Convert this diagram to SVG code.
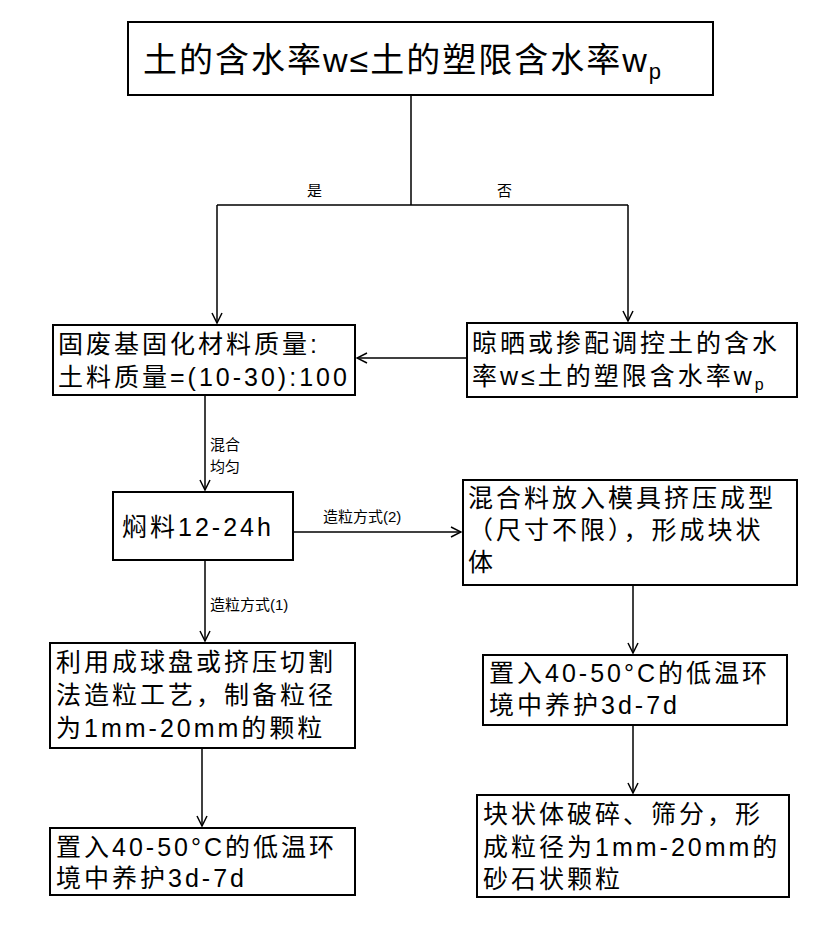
<svg xmlns="http://www.w3.org/2000/svg" width="830" height="929" viewBox="0 0 830 929">
<defs>
<marker id="a" viewBox="0 0 12 12" refX="11" refY="6" markerWidth="12" markerHeight="12" markerUnits="userSpaceOnUse" orient="auto"><path d="M1,1 L11,6 L1,11" fill="none" stroke="#000" stroke-width="1.5"/></marker>
<style>
rect{fill:#fff;stroke:#000;stroke-width:2}
text{font-family:"Liberation Sans","Noto Sans CJK SC",sans-serif;fill:#000}
.t{font-size:25px;letter-spacing:3px}
.s{font-size:15px}
.c line,.c path{stroke:#000;stroke-width:1.5;fill:none}
</style>
</defs>
<g class="c">
<path d="M411,95 V205 M217,205 H628"/>
<line x1="217" y1="205" x2="217" y2="323" marker-end="url(#a)"/>
<line x1="628" y1="205" x2="628" y2="321" marker-end="url(#a)"/>
<line x1="467" y1="358" x2="357" y2="358" marker-end="url(#a)"/>
<line x1="205" y1="395" x2="205" y2="490" marker-end="url(#a)"/>
<line x1="293" y1="532" x2="461" y2="532" marker-end="url(#a)"/>
<line x1="205" y1="560" x2="205" y2="641" marker-end="url(#a)"/>
<line x1="202" y1="748" x2="202" y2="826" marker-end="url(#a)"/>
<line x1="633" y1="585" x2="633" y2="653" marker-end="url(#a)"/>
<line x1="633" y1="725" x2="633" y2="793" marker-end="url(#a)"/>
</g>
<text class="s" x="307" y="196">是</text>
<text class="s" x="497" y="196">否</text>
<text class="s" x="210" y="450">混合</text>
<text class="s" x="210" y="472">均匀</text>
<text class="s" x="323" y="522">造粒方式(2)</text>
<text class="s" x="210" y="610">造粒方式(1)</text>
<g id="n1"><rect x="128" y="22" width="585" height="73"/><text x="143" y="72" font-size="34" letter-spacing="2">土的含水率w≤土的塑限含水率w<tspan font-size="22" dy="7">p</tspan></text></g>
<g id="n2"><rect x="53" y="325" width="302" height="70"/><text class="t" x="58" y="353">固废基固化材料质量:</text><text class="t" x="58" y="386">土料质量=(10-30):100</text></g>
<g id="n3"><rect x="467" y="323" width="330" height="74"/><text class="t" x="472" y="352">晾晒或掺配调控土的含水</text><text class="t" x="472" y="385">率w≤土的塑限含水率w<tspan font-size="16" dy="5">p</tspan></text></g>
<g id="n4"><rect x="113" y="492" width="180" height="68"/><text class="t" x="122" y="536">焖料12-24h</text></g>
<g id="n5"><rect x="463" y="480" width="334" height="105"/><text class="t" x="468" y="507">混合料放入模具挤压成型</text><text class="t" x="468" y="539">（尺寸不限），形成块状</text><text class="t" x="468" y="571">体</text></g>
<g id="n6"><rect x="50" y="643" width="305" height="105"/><text class="t" x="56" y="671">利用成球盘或挤压切割</text><text class="t" x="56" y="704">法造粒工艺，制备粒径</text><text class="t" x="56" y="737">为1mm-20mm的颗粒</text></g>
<g id="n7"><rect x="50" y="828" width="305" height="67"/><text class="t" x="56" y="856">置入40-50°C的低温环</text><text class="t" x="56" y="887">境中养护3d-7d</text></g>
<g id="n8"><rect x="483" y="655" width="304" height="70"/><text class="t" x="489" y="682">置入40-50°C的低温环</text><text class="t" x="489" y="714">境中养护3d-7d</text></g>
<g id="n9"><rect x="477" y="795" width="312" height="102"/><text class="t" x="483" y="823">块状体破碎、筛分，形</text><text class="t" x="483" y="856">成粒径为1mm-20mm的</text><text class="t" x="483" y="888">砂石状颗粒</text></g>
</svg>
